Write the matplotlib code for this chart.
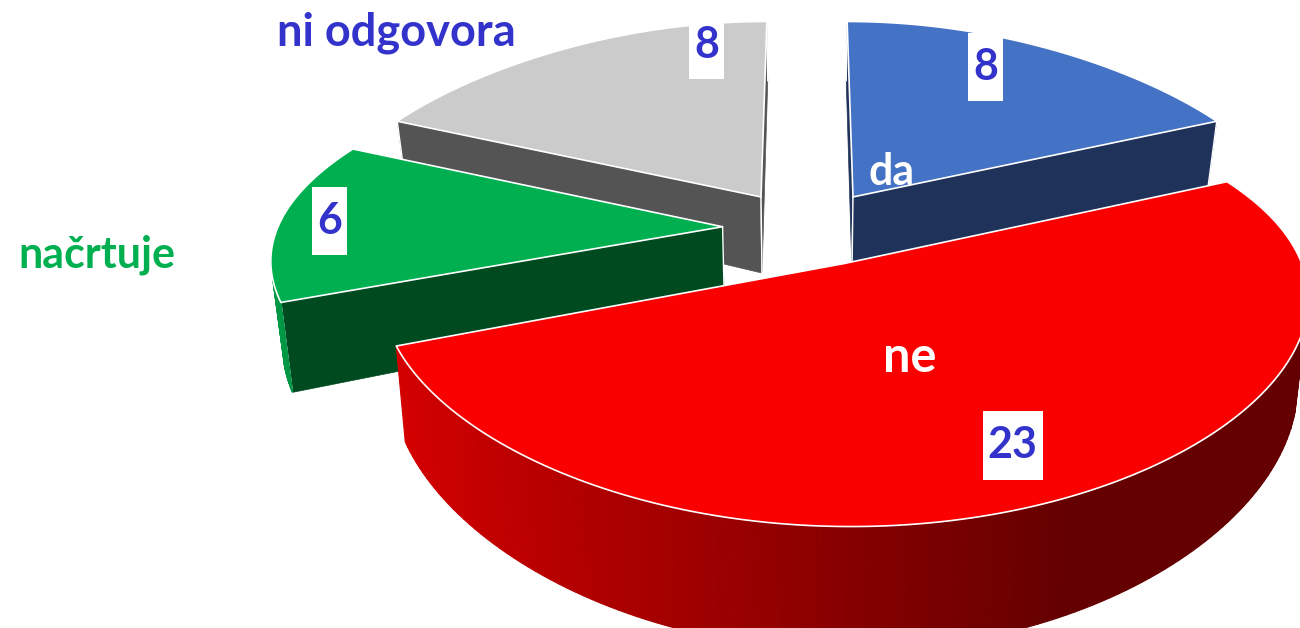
import numpy as np
import matplotlib.pyplot as plt
from matplotlib.patches import Polygon
from matplotlib.path import Path
from matplotlib.colors import to_rgb

# data
labels = ['da', 'ne', 'načrtuje', 'ni odgovora']
values = [8, 23, 6, 8]

# style
top_colors = ['#4472C4', '#FA0000', '#00B050', '#CCCBCC']
side_colors = ['#1F3259', '#9A0000', '#004A20', '#545454']
label_colors = ['white', 'white', '#00B050', '#3333CC']
label_sizes = [31, 35, 31, 32.5]
explode = [0.2, 0.2, 0.19, 0.2]

# label placement in slice-local polar coords (angle deg, radius)
cat_pos = [(57, 0.17), (-73, 0.44), (186, 1.38), (136, 1.35)]
num_pos = [(65, 0.83), (-67, 0.81), (178, 0.89), (100, 0.89)]

# pseudo-perspective view (pixels)
CX, CY = 807, 228
HS0, QH = 445, 0.15                 # horizontal scale, shrink with depth
G1, G2, G3 = 188, -32, 19           # vertical foreshortening
W0, QW = 80, 0.3                    # wall height
CONV = 0.022                        # converging verticals
CAMD = 4.5

plt.rcParams['font.family'] = ['Lato', 'DejaVu Sans']


def proj(x, y, z):
    # z: 0 top face, -1 bottom face
    hs = HS0 / (1 + QH * y)
    px = CX + x * hs * (1 + CONV * z)
    py = CY - (G1 * y + G2 * y ** 2 + G3 * y ** 3) - z * W0 / (1 + QW * y)
    return px, py


def facing(px, py, nx, ny):
    return nx * (0 - px) + ny * (-CAMD - py) > 0


def tall_box(x0, y0, width, height, mutation_size):
    px, py = 0.12 * mutation_size, 0.33 * mutation_size
    x0, y0, x1, y1 = x0 - px, y0 - py, x0 + width + px, y0 + height + py
    return Path([(x0, y0), (x1, y0), (x1, y1), (x0, y1), (x0, y0)], closed=True)


fig = plt.figure(figsize=(13, 6.28), dpi=100)
ax = fig.add_axes([0, 0, 1, 1])
ax.set_xlim(0, 1300)
ax.set_ylim(628, 0)
ax.axis('off')

total = sum(values)
start = 90.0
slices = []
for i, v in enumerate(values):
    sweep = 360.0 * v / total
    a1, a2 = start, start - sweep
    mid = np.radians((a1 + a2) / 2)
    off = explode[i] * np.array([np.cos(mid), np.sin(mid)])
    slices.append((i, a1, a2, off))
    start = a2

# far slices first
slices.sort(key=lambda s: -(s[3][1] + 0.5 * np.sin(np.radians((s[1] + s[2]) / 2))))

z = 1
for i, a1, a2, off in slices:
    ox, oy = off
    t = np.radians(np.linspace(a1, a2, 160))
    ex, ey = ox + np.cos(t), oy + np.sin(t)
    base = np.array(to_rgb(top_colors[i]))

    # radial walls
    for a, sgn in [(a1, 1), (a2, -1)]:
        ar = np.radians(a)
        nx, ny = np.cos(ar + sgn * np.pi / 2), np.sin(ar + sgn * np.pi / 2)
        if facing(ox + np.cos(ar) / 2, oy + np.sin(ar) / 2, nx, ny):
            cx_, cy_ = ox + np.cos(ar), oy + np.sin(ar)
            pts = [proj(ox, oy, 0), proj(cx_, cy_, 0), proj(cx_, cy_, -1), proj(ox, oy, -1)]
            ax.add_patch(Polygon(pts, closed=True, facecolor=side_colors[i],
                                 edgecolor=side_colors[i], lw=0.5, zorder=z))
            z += 1
            for p, q in [(pts[1], pts[2]), (pts[0], pts[3])]:
                ax.plot([p[0], q[0]], [p[1], q[1]], color='white', lw=1, zorder=z)
            z += 1

    # outer wall, shaded left to right
    for k in range(len(t) - 1):
        tm = (t[k] + t[k + 1]) / 2
        if not facing(ox + np.cos(tm), oy + np.sin(tm), np.cos(tm), np.sin(tm)):
            continue
        shade = np.clip(0.85 - (np.cos(tm) + 0.93) / 1.34 * 0.45, 0.4, 0.9)
        col = np.clip(base * shade, 0, 1)
        pts = [proj(ex[k], ey[k], 0), proj(ex[k + 1], ey[k + 1], 0),
               proj(ex[k + 1], ey[k + 1], -1), proj(ex[k], ey[k], -1)]
        ax.add_patch(Polygon(pts, closed=True, facecolor=col, edgecolor=col,
                             lw=0.8, zorder=z))
    z += 1

    # top face
    top = [proj(ox, oy, 0)] + [proj(x, y, 0) for x, y in zip(ex, ey)]
    ax.add_patch(Polygon(top, closed=True, facecolor=top_colors[i],
                         edgecolor='white', lw=1.2, joinstyle='round', zorder=z))
    z += 1

# labels
for i, a1, a2, off in slices:
    ox, oy = off
    ang, r = cat_pos[i]
    x, y = proj(ox + r * np.cos(np.radians(ang)), oy + r * np.sin(np.radians(ang)), 0)
    ax.text(x, y, labels[i], color=label_colors[i], fontsize=label_sizes[i],
            fontweight='bold', ha='center', va='center', zorder=100)
    ang, r = num_pos[i]
    x, y = proj(ox + r * np.cos(np.radians(ang)), oy + r * np.sin(np.radians(ang)), 0)
    ax.text(x, y, str(values[i]), color='#3333CC', fontsize=31, fontweight='bold',
            ha='center', va='center', zorder=100,
            bbox=dict(boxstyle=tall_box, facecolor='white', edgecolor='none'))

fig.savefig('out.png', dpi=100)
